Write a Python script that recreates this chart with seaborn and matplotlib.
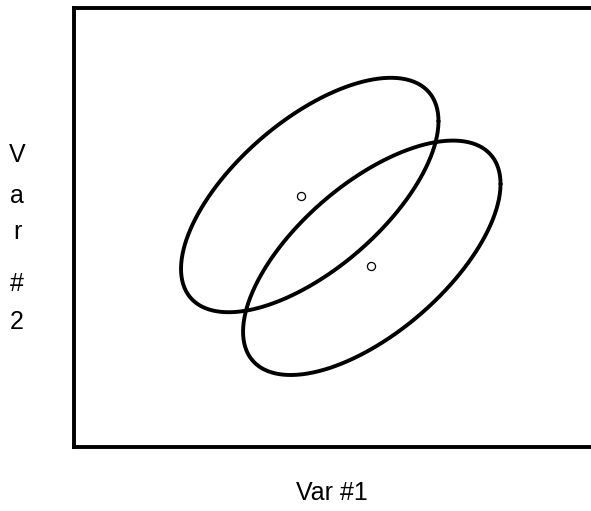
import numpy as np
import pandas as pd
import seaborn as sns
import matplotlib.pyplot as plt

# ellipse parameters (data units: axes run 0-10 on both variables)
centre_x = [4.56, 5.76]
centre_y = [5.74, 4.31]
spread_x = [2.49, 2.49]
spread_y = [2.67, 2.67]
corr = [0.63, 0.63]

# group means shown as small open circles
mean_x = [4.39, 5.745]
mean_y = [5.72, 4.12]

sns.set_theme(style="white")
plt.rcParams["font.family"] = ["Liberation Sans", "DejaVu Sans"]

fig = plt.figure(figsize=(5.91, 5.11), dpi=100)
ax = fig.add_axes([74 / 591, 64 / 511, 1 - 74 / 591, 439 / 511])

# draw each ellipse as a closed outline
t = np.linspace(0, 2 * np.pi, 400)
for cx, cy, sx, sy, r in zip(centre_x, centre_y, spread_x, spread_y, corr):
    df = pd.DataFrame({
        "x": cx + sx * np.cos(t),
        "y": cy + sy * (r * np.cos(t) + np.sqrt(1 - r ** 2) * np.sin(t)),
    })
    sns.lineplot(data=df, x="x", y="y", sort=False, estimator=None,
                 color="black", linewidth=2.8, ax=ax)

sns.scatterplot(x=mean_x, y=mean_y, s=34, facecolor="white",
                edgecolor="black", linewidth=0.9, ax=ax, zorder=3)

ax.set(xlim=(0, 10), ylim=(0, 10), xticks=[], yticks=[], xlabel="", ylabel="")
for side in ["left", "top", "bottom"]:
    ax.spines[side].set_color("black")
    ax.spines[side].set_linewidth(2.8)
ax.spines["right"].set_visible(False)

# axis titles, the vertical one stacked letter by letter
fig.text(332 / 591, 1 - 493 / 511, "Var #1", ha="center", va="center",
         fontsize=18, color="black")
for ch, ypix in zip(["V", "a", "r", "#", "2"], [155, 196, 232, 284, 322]):
    fig.text(17 / 591, 1 - ypix / 511, ch, ha="center", va="center",
             fontsize=18, color="black")

fig.savefig("out.png", dpi=100)
